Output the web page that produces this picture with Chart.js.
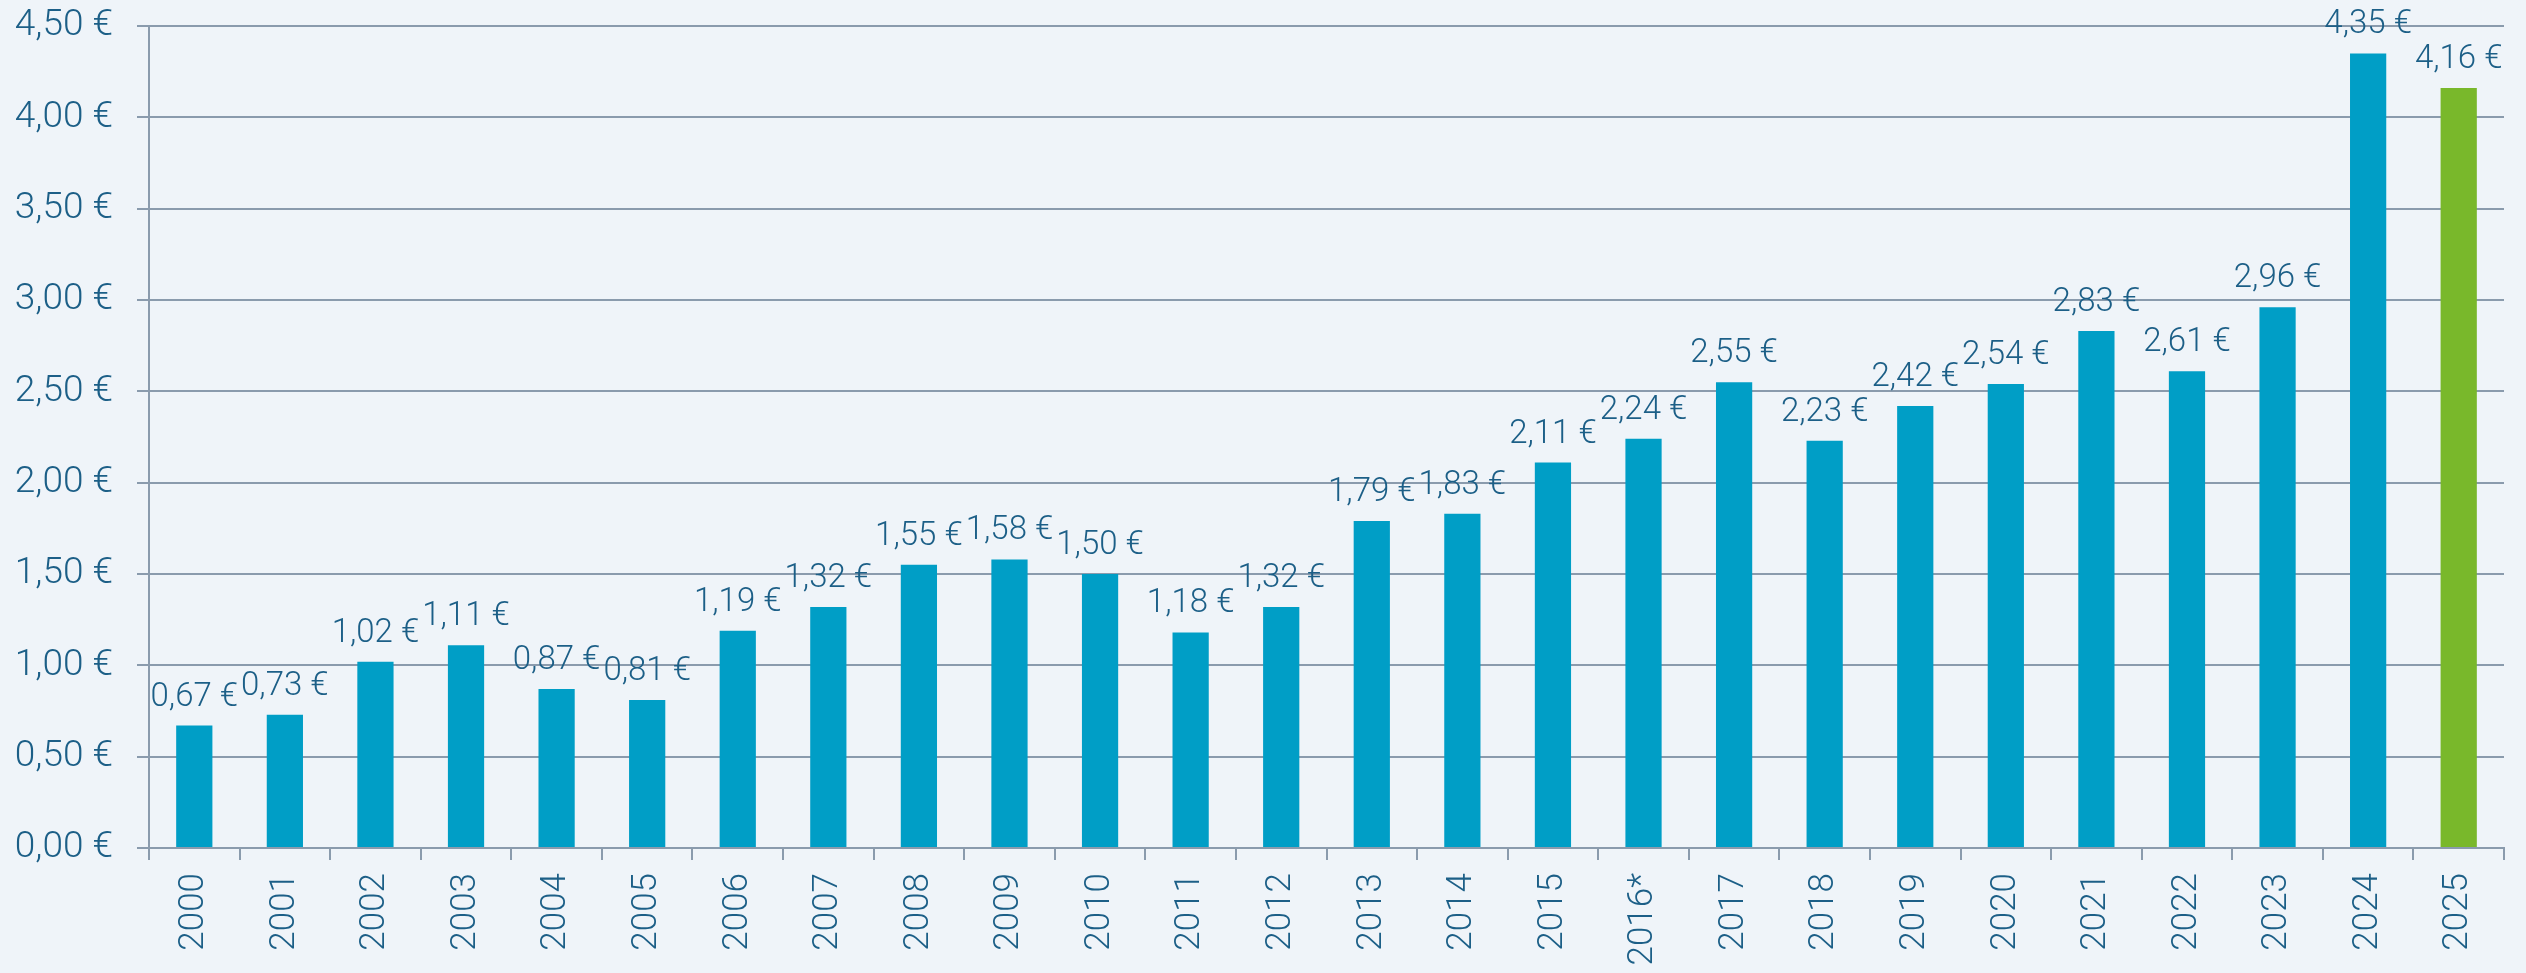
<!DOCTYPE html>
<html>
<head>
<meta charset="utf-8">
<script src="https://cdn.jsdelivr.net/npm/chart.js@4"></script>
<style>
  html, body { margin: 0; padding: 0; background: #eff4f9; }
  #wrap { width: 2526px; height: 973px; position: relative; }
</style>
</head>
<body>
<div id="wrap"><canvas id="priceChart"></canvas></div>
<script>
// Jahre (2016 mit Fußnote)
const years = ['2000', '2001', '2002', '2003', '2004', '2005', '2006', '2007', '2008', '2009',
  '2010', '2011', '2012', '2013', '2014', '2015', '2016*', '2017', '2018', '2019',
  '2020', '2021', '2022', '2023', '2024', '2025'];

// Preis in Euro
const prices = [0.67, 0.73, 1.02, 1.11, 0.87, 0.81, 1.19, 1.32, 1.55, 1.58,
  1.50, 1.18, 1.32, 1.79, 1.83, 2.11, 2.24, 2.55, 2.23, 2.42,
  2.54, 2.83, 2.61, 2.96, 4.35, 4.16];

const yMax = 4.5;
const yStep = 0.5;

const blue = '#009ec6';
const green = '#79b82b';
const textColor = '#1c5f87';
const gridColor = '#8a9bad';
const yFont = { family: 'Roboto', size: 37, weight: '300' };
const xFont = { family: 'Roboto', size: 35, weight: '300' };
const labelFont = { family: 'Roboto', size: 33, weight: '300' };

const euro = v => v.toFixed(2).replace('.', ',') + ' €';

// Werte über den Balken
const valueLabels = {
  id: 'valueLabels',
  afterDatasetsDraw(chart) {
    const c = chart.ctx;
    const meta = chart.getDatasetMeta(0);
    c.save();
    c.font = `${labelFont.weight} ${labelFont.size}px ${labelFont.family}`;
    c.fillStyle = textColor;
    c.textAlign = 'center';
    c.textBaseline = 'alphabetic';
    meta.data.forEach((bar, i) => {
      c.fillText(euro(prices[i]), bar.x, bar.y - 20);
    });
    c.restore();
  }
};

const ctx = document.getElementById('priceChart').getContext('2d');

const priceChart = new Chart(ctx, {
  type: 'bar',
  data: {
    labels: years,
    datasets: [{
      data: prices,
      backgroundColor: years.map((y, i) => i === years.length - 1 ? green : blue),
      barPercentage: 0.8,
      categoryPercentage: 0.5
    }]
  },
  options: {
    responsive: true,
    maintainAspectRatio: false,
    animation: false,
    layout: { padding: { top: 26, right: 22, left: 0, bottom: 0 } },
    plugins: {
      legend: { display: false },
      tooltip: { enabled: false }
    },
    scales: {
      x: {
        grid: { display: true, drawOnChartArea: false, color: gridColor, lineWidth: 2, tickLength: 12, offset: true },
        border: { color: gridColor, width: 2 },
        ticks: { color: textColor, font: xFont, minRotation: 90, maxRotation: 90, padding: 13, autoSkip: false },
        afterFit: s => { s.height = 125; }
      },
      y: {
        min: 0,
        max: yMax,
        grid: { color: gridColor, lineWidth: 2, tickLength: 12 },
        border: { color: gridColor, width: 2 },
        ticks: { stepSize: yStep, color: textColor, font: yFont, padding: 24, callback: v => euro(v) },
        afterFit: s => { s.width = 149; s.paddingTop = 0; s.paddingBottom = 0; }
      }
    }
  },
  plugins: [valueLabels]
});
</script>
</body>
</html>
